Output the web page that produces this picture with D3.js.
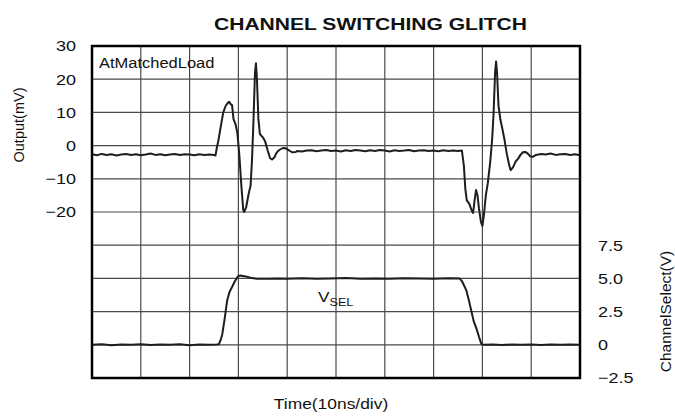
<!DOCTYPE html>
<html><head><meta charset="utf-8">
<script src="https://cdn.jsdelivr.net/npm/d3@7"></script>
<style>body{margin:0;background:#fff;} svg{display:block;font-family:"Liberation Sans",Arial,sans-serif;}</style>
</head><body><svg id="c" width="675" height="417"></svg>
<script>
// ---- data ----
const leftTicks = [30, 20, 10, 0, -10, -20];
const rightTicks = [7.5, 5.0, 2.5, 0, -2.5];
const timeTicks = [0,10,20,30,40,50,60,70,80,90,100];
const gridLevels = [30,20,10,0,-10,-20,-30,-40,-50,-60,-70];

// Output glitch trace: time (ns) and mV
const outT = [0,1,2,3,4,5,6,7,8,9,10,11,12,13,14,15,16,17,18,19,20,21,22,23,24,25,25.3,
  25.6,25.9,26.3,26.9,27.4,27.8,28.1,28.4,28.7,29.0,29.4,29.8,30.2,30.6,31.0,31.2,31.6,32.1,32.5,32.8,33.1,33.4,33.6,33.8,34.1,34.4,35.0,35.5,36.0,36.5,36.9,37.4,37.8,38.3,39.0,39.5,40.2,41.0,41.8,
  42,43,44,45,46,47,48,49,50,51,52,53,54,55,56,57,58,59,60,61,62,63,64,65,66,67,68,69,70,71,72,73,74,75,75.8,
  76.2,76.5,76.8,77.3,77.8,78.1,78.4,78.7,79.0,79.3,79.7,80.0,80.3,80.7,81.1,81.6,82.0,82.3,82.6,82.8,83.0,83.3,83.7,84.1,84.5,85.0,85.5,85.8,86.3,86.8,87.3,87.8,88.3,88.8,89.3,89.8,90.3,
  91,92,93,94,95,96,97,98,99,100];
const outMV = [-2.6,-2.9,-2.5,-2.8,-2.6,-3.0,-2.7,-2.5,-2.8,-2.6,-2.9,-2.7,-2.4,-2.8,-2.6,-2.9,-2.7,-2.5,-2.8,-2.6,-2.7,-2.9,-2.6,-2.8,-2.7,-2.8,-3.0,
  -0.5,1.5,5,10,12,12.8,13.2,12.5,12.2,8,6.5,3.7,-3,-12,-19.5,-20,-18.5,-14.5,-12,-4,8,22,24.8,20,8,3.5,2.5,1.2,-1.5,-3.8,-4.2,-3.5,-2.2,-1.4,-0.8,-0.7,-1.3,-2.0,-1.9,
  -1.6,-1.8,-1.5,-1.4,-1.7,-1.5,-1.3,-1.6,-1.5,-1.8,-1.4,-1.6,-1.3,-1.5,-1.7,-1.4,-1.6,-1.3,-1.5,-1.8,-1.4,-1.6,-1.5,-1.3,-1.7,-1.5,-1.4,-1.6,-1.5,-1.7,-1.4,-1.6,-1.5,-1.6,-1.5,
  -6,-13,-16.5,-17.5,-19.5,-20.3,-16.5,-13.4,-15,-19,-23,-24.2,-21,-15,-11.4,-5,2,10,22,25.3,22,12,7.7,5,2,-2.5,-6,-7.4,-6.5,-4.8,-4,-2.8,-2.0,-1.9,-2.4,-3.2,-3.4,
  -2.8,-2.5,-2.7,-2.4,-2.8,-2.6,-2.5,-2.8,-2.6,-2.9];

// Channel select (VSEL) trace: time (ns) and volts
const selT = [0,2,4,6,8,10,12,14,16,18,20,22,24,25.5,26.0,26.4,26.7,27.2,27.7,28.2,28.7,29.3,29.9,30.4,31.5,32.5,33.8,36,38,40,43,46,49,52,55,58,61,64,67,70,73,75.3,
  75.8,76.2,76.7,77.2,77.7,78.2,78.8,79.3,79.8,80.3,82,84,86,88,90,92,94,96,98,100];
const selV = [0.0,0.05,-0.03,0.02,0.0,0.04,-0.02,0.03,0.0,0.05,-0.03,0.02,0.0,0.03,0.05,0.4,0.8,2.0,3.35,4.0,4.35,4.8,5.15,5.22,5.15,5.05,4.97,4.98,5.0,4.97,5.02,4.98,5.0,5.03,4.98,5.0,4.97,5.02,5.0,4.98,5.02,5.0,
  4.8,4.5,4.1,3.4,2.6,1.8,1.2,0.6,0.05,0.0,0.03,-0.02,0.02,0.0,0.03,-0.02,0.02,0.0,0.03,0.0];

// ---- layout ----
const X0 = 92, X1 = 580, Y0 = 46, Y1 = 378;
const svg = d3.select("#c");
const x = d3.scaleLinear().domain([0, 100]).range([X0, X1]);
const yL = d3.scaleLinear().domain([-70, 30]).range([Y1, Y0]);
const yR = d3.scaleLinear().domain([-2.5, 22.5]).range([Y1, Y0]);

// grid
const grid = svg.append("g").attr("stroke", "#4a4a4a").attr("stroke-width", 1.2);
grid.selectAll("line.v").data(timeTicks.slice(1, -1)).join("line")
  .attr("x1", d => x(d)).attr("x2", d => x(d)).attr("y1", Y0).attr("y2", Y1);
grid.selectAll("line.h").data(gridLevels.slice(1, -1)).join("line")
  .attr("x1", X0).attr("x2", X1).attr("y1", d => yL(d)).attr("y2", d => yL(d));

// traces
const lineOut = d3.line().x((d, i) => x(outT[i])).y(d => yL(d));
svg.append("path").datum(outMV).attr("d", lineOut).attr("fill", "none")
  .attr("stroke", "#1e1e1e").attr("stroke-width", 2).attr("stroke-linejoin", "round");
const lineSel = d3.line().x((d, i) => x(selT[i])).y(d => yR(d));
svg.append("path").datum(selV).attr("d", lineSel).attr("fill", "none")
  .attr("stroke", "#1e1e1e").attr("stroke-width", 2).attr("stroke-linejoin", "round");

// frame
svg.append("rect").attr("x", X0).attr("y", Y0).attr("width", X1 - X0).attr("height", Y1 - Y0)
  .attr("fill", "none").attr("stroke", "#000").attr("stroke-width", 2.5);

// axes
const SX = 1.2;
const axL = svg.append("g").attr("transform", `translate(${X0 - 16},0)`)
  .call(d3.axisLeft(yL).tickValues(leftTicks).tickSize(0).tickPadding(0).tickFormat(d3.format("d")));
axL.select(".domain").remove();
axL.selectAll("text").attr("font-size", 15).attr("fill", "#111").attr("font-family", "Liberation Sans, Arial")
  .attr("x", 0).attr("transform", `scale(${SX},1)`);

const axR = svg.append("g").attr("transform", `translate(${X1 + 18},0)`)
  .call(d3.axisRight(yR).tickValues(rightTicks).tickSize(0).tickPadding(0)
    .tickFormat(d => d === 0 ? "0" : d3.format(".1f")(d)));
axR.select(".domain").remove();
axR.selectAll("text").attr("font-size", 15).attr("fill", "#111").attr("font-family", "Liberation Sans, Arial")
  .attr("x", 0).attr("transform", `scale(${SX},1)`);

// text helper
function label(txt, px, py, opts) {
  const g = svg.append("g").attr("transform", `translate(${px},${py})` + (opts.rot ? ` rotate(${opts.rot})` : ""));
  const t = g.append("text").text(txt).attr("font-size", opts.size).attr("fill", "#111")
    .attr("text-anchor", opts.anchor || "middle").attr("font-weight", opts.bold ? "bold" : null)
    .attr("transform", opts.rot ? null : `scale(${opts.sx || SX},1)`);
  return t;
}
label("CHANNEL SWITCHING GLITCH", 370.5, 30, {size: 17, bold: true, sx: 1.24});
label("AtMatchedLoad", 99, 68, {size: 15, anchor: "start", sx: 1.1});
label("Time(10ns/div)", 331, 409, {size: 15, sx: 1.16});
label("Output(mV)", 23.5, 125, {size: 14.5, rot: -90});
label("ChannelSelect(V)", 670.5, 311.5, {size: 15.5, rot: -90});

const vs = svg.append("g").attr("transform", "translate(318,302) scale(1.15,1)");
const vt = vs.append("text").attr("font-size", 15).attr("fill", "#111");
vt.append("tspan").text("V");
vt.append("tspan").text("SEL").attr("font-size", 11).attr("dy", 3.5);
</script></body></html>
